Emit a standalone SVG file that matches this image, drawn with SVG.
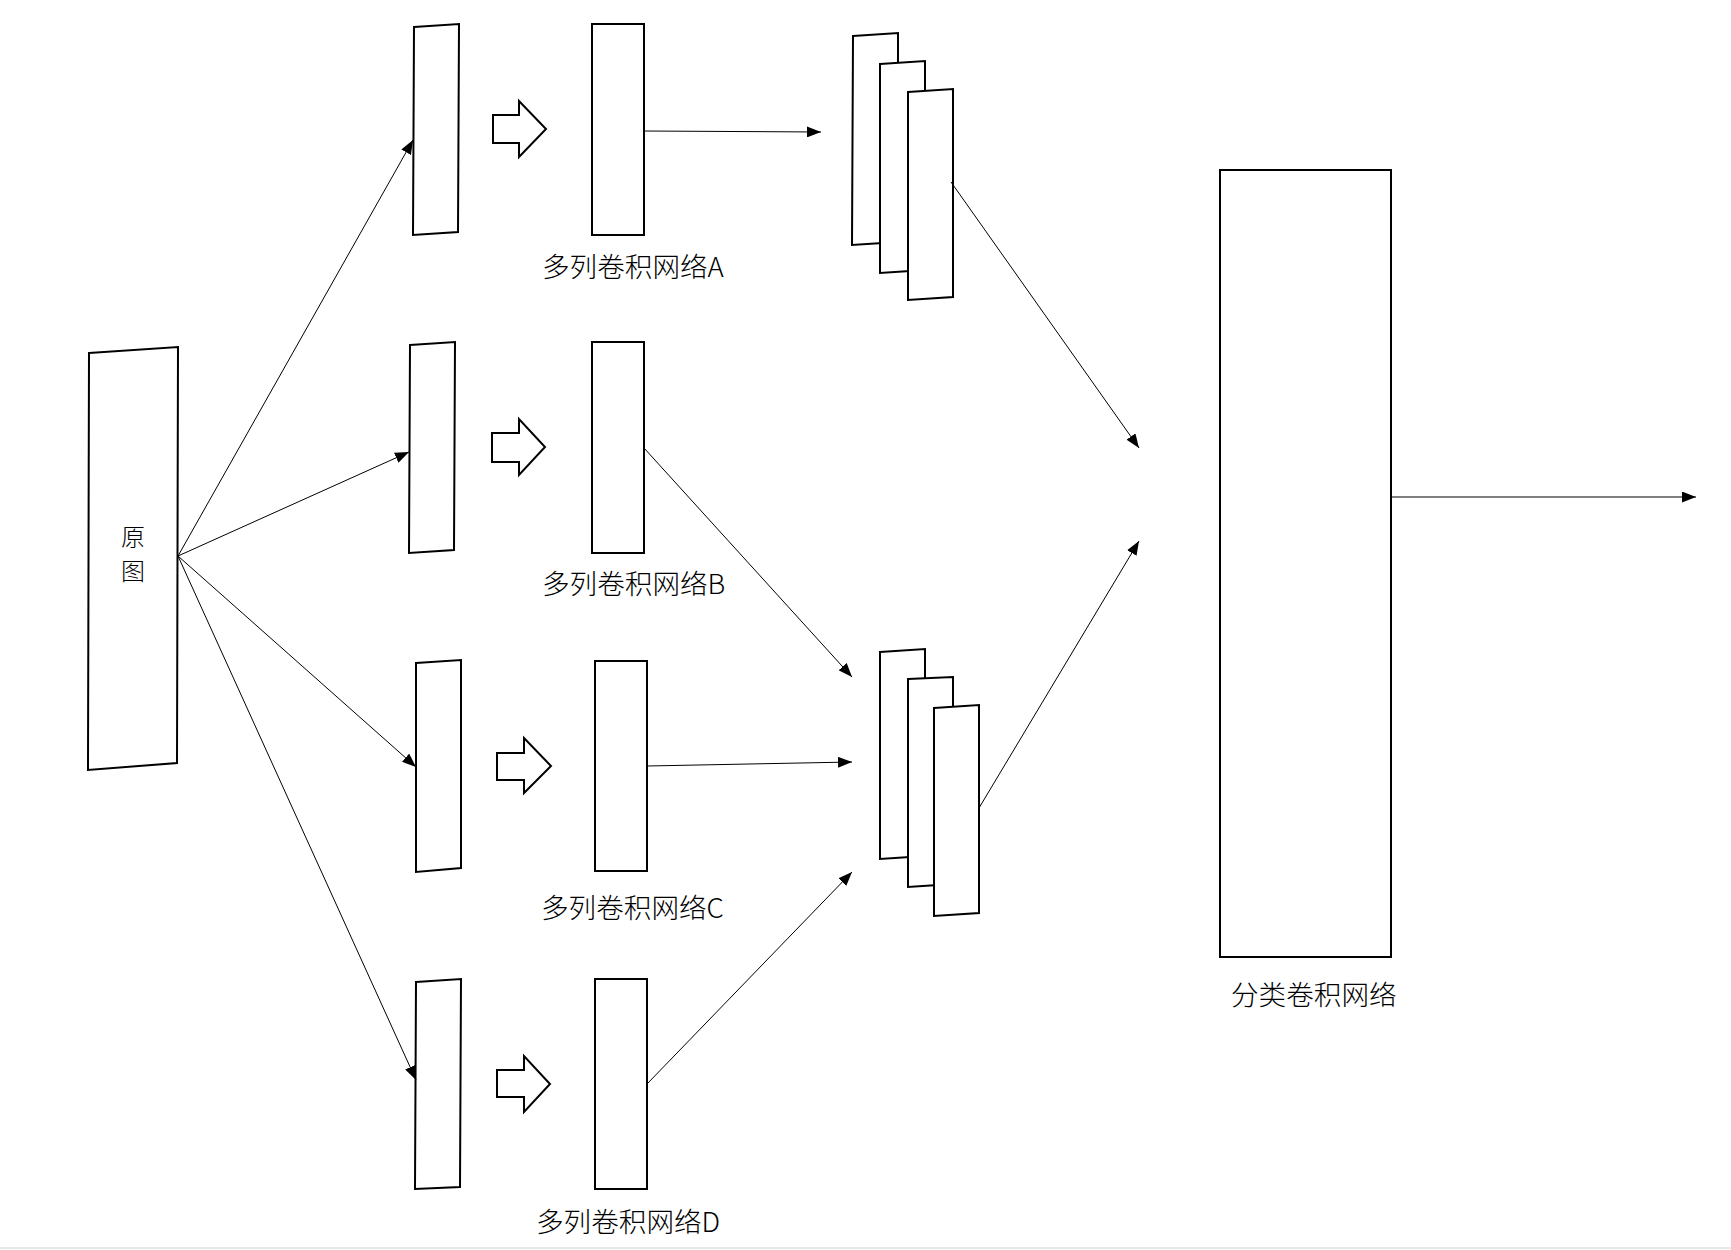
<svg xmlns="http://www.w3.org/2000/svg" width="1731" height="1250" viewBox="0 0 1731 1250">
<defs>
<style>
.shape{fill:#fff;stroke:#000;stroke-width:2;stroke-linejoin:miter}
.conn{fill:none;stroke:#000;stroke-width:1}
.lbl{font-family:"Noto Sans CJK SC","Noto Sans",sans-serif;font-size:27.6px;font-weight:300;fill:#000}
.vlbl{font-family:"Noto Sans CJK SC","Noto Sans",sans-serif;font-size:24px;font-weight:300;fill:#000}
</style>
<marker id="arr" viewBox="0 0 14 11" refX="14" refY="5.5" markerWidth="14" markerHeight="11" markerUnits="userSpaceOnUse" orient="auto">
<path d="M0,0 L14,5.5 L0,11 z" fill="#000"/>
</marker>
</defs>
<rect width="1731" height="1250" fill="#fff"/>
<line x1="0" y1="1248" x2="1731" y2="1248" stroke="#d0d0d0" stroke-width="1"/>

<g id="yuantu">
<polygon class="shape" points="89,353 178,347 177,763 88,770"/>
<text class="vlbl" x="133" y="546" text-anchor="middle">原</text>
<text class="vlbl" x="133" y="580" text-anchor="middle">图</text>
</g>

<g id="inA"><polygon class="shape" points="414,27 459,24 458,232 413,235"/></g>
<g id="inB"><polygon class="shape" points="410,345 455,342 454,550 409,553"/></g>
<g id="inC"><polygon class="shape" points="416,663 461,660 461,868 416,872"/></g>
<g id="inD"><polygon class="shape" points="416,982 461,979 460,1187 415,1189"/></g>

<g id="bigArrowA"><polygon class="shape" points="493,115 519,115 519,101 546,129 519,157 519,143 493,143"/></g>
<g id="bigArrowB"><polygon class="shape" points="492,433 519,433 519,419 545,447 519,475 519,462 492,462"/></g>
<g id="bigArrowC"><polygon class="shape" points="497,753 524,753 524,738 551,766 524,793 524,780 497,780"/></g>
<g id="bigArrowD"><polygon class="shape" points="497,1070 524,1070 524,1056 550,1084 524,1112 524,1097 497,1097"/></g>

<g id="netA">
<rect class="shape" x="592" y="24" width="52" height="211"/>
<text class="lbl" x="542" y="277">多列卷积网络A</text>
</g>
<g id="netB">
<rect class="shape" x="592" y="342" width="52" height="211"/>
<text class="lbl" x="542" y="594">多列卷积网络B</text>
</g>
<g id="netC">
<rect class="shape" x="595" y="661" width="52" height="210"/>
<text class="lbl" x="541" y="918">多列卷积网络C</text>
</g>
<g id="netD">
<rect class="shape" x="595" y="979" width="52" height="210"/>
<text class="lbl" x="536" y="1232">多列卷积网络D</text>
</g>

<g id="stackA">
<polygon class="shape" points="853,36 898,33 898,242 852,245"/>
<polygon class="shape" points="880,64 925,61 925,270 880,273"/>
<polygon class="shape" points="908,92 953,89 953,297 908,300"/>
</g>
<g id="stackC">
<polygon class="shape" points="880,652 925,649 925,856 880,859"/>
<polygon class="shape" points="908,679 953,677 953,884 908,887"/>
<polygon class="shape" points="934,708 979,705 979,913 934,916"/>
</g>

<g id="classifier">
<rect class="shape" x="1220" y="170" width="171" height="787"/>
<text class="lbl" x="1231" y="1005">分类卷积网络</text>
</g>

<g id="connectors">
<line class="conn" x1="178" y1="556" x2="413" y2="140" marker-end="url(#arr)"/>
<line class="conn" x1="178" y1="556" x2="409" y2="452" marker-end="url(#arr)"/>
<line class="conn" x1="178" y1="556" x2="416" y2="767" marker-end="url(#arr)"/>
<line class="conn" x1="178" y1="556" x2="416" y2="1080" marker-end="url(#arr)"/>
<line class="conn" x1="644" y1="131" x2="821" y2="132" marker-end="url(#arr)"/>
<line class="conn" x1="644" y1="448" x2="852" y2="677" marker-end="url(#arr)"/>
<line class="conn" x1="647" y1="766" x2="852" y2="762" marker-end="url(#arr)"/>
<line class="conn" x1="647" y1="1084" x2="852" y2="872" marker-end="url(#arr)"/>
<line class="conn" x1="951" y1="182" x2="1139" y2="448" marker-end="url(#arr)"/>
<line class="conn" x1="979" y1="808" x2="1139" y2="541" marker-end="url(#arr)"/>
<line class="conn" x1="1391" y1="497" x2="1696" y2="497" marker-end="url(#arr)"/>
</g>
</svg>
